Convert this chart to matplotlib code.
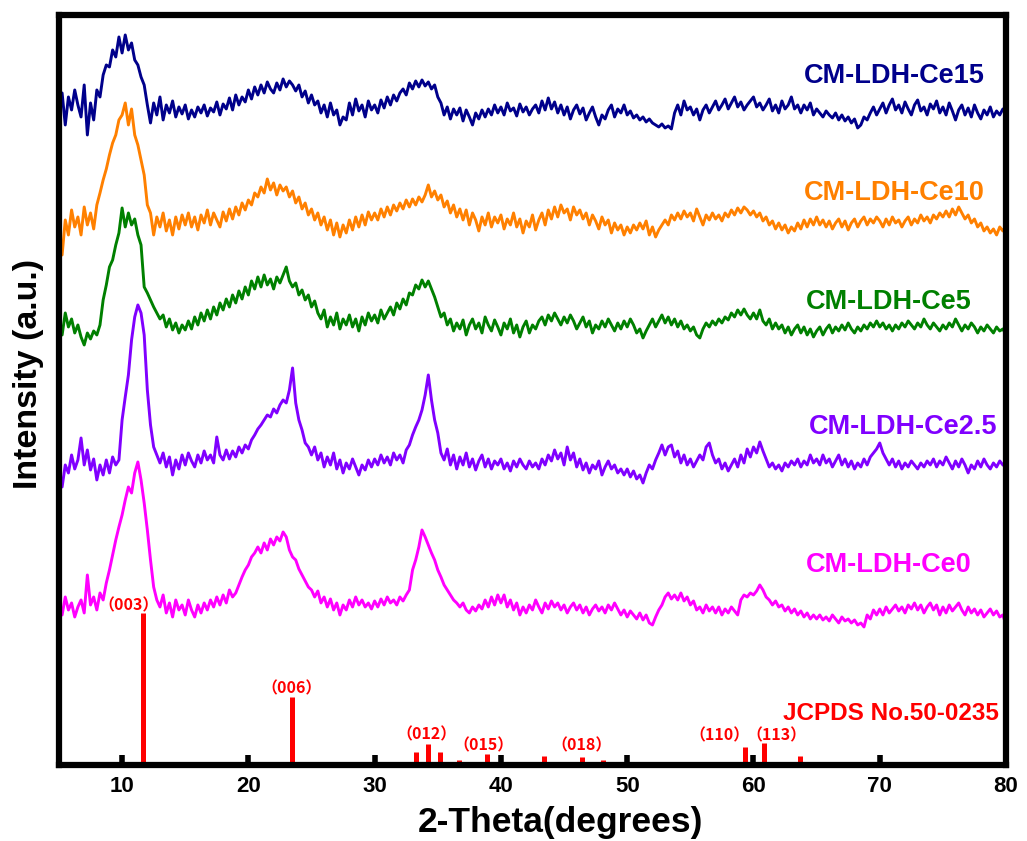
import numpy as np
import matplotlib
matplotlib.use("Agg")
from matplotlib import pyplot as plt

plt.rcParams['font.family'] = ['Liberation Sans', 'DejaVu Sans']
plt.rcParams['font.weight'] = 'bold'

# 2-theta grid of the read-off points (5 to 80 deg, step 0.25)
two_theta = np.arange(5.0, 80.001, 0.25)

# intensities (a.u., already stacked)
ce15 = [645, 672, 640, 668, 655, 675, 660, 648, 680, 630, 662, 645, 675, 668, 690, 700, 698, 715, 708, 728,
        712, 730, 715, 722, 705, 700, 688, 680, 660, 642, 662, 650, 668, 645, 660, 652, 664, 648, 658, 651,
        660, 646, 655, 648, 658, 652, 660, 649, 657, 653, 663, 650, 661, 656, 667, 655, 670, 660, 668, 663,
        675, 666, 678, 670, 680, 672, 683, 676, 672, 682, 675, 686, 678, 684, 680, 674, 680, 668, 674, 662,
        670, 660, 664, 652, 660, 648, 662, 650, 655, 640, 648, 645, 662, 650, 666, 654, 660, 648, 664, 655,
        660, 652, 665, 657, 668, 660, 670, 664, 672, 676, 670, 682, 676, 684, 678, 685, 679, 683, 676, 680,
        668, 662, 650, 658, 646, 656, 650, 657, 644, 655, 648, 640, 652, 646, 655, 648, 656, 650, 660, 652,
        658, 650, 662, 654, 657, 649, 661, 653, 658, 650, 656, 660, 652, 664, 655, 667, 656, 663, 652, 660,
        650, 658, 646, 655, 660, 651, 657, 645, 652, 658, 648, 640, 650, 646, 655, 660, 648, 656, 652, 660,
        650, 654, 647, 650, 645, 648, 643, 646, 642, 640, 638, 641, 637, 639, 636, 652, 660, 650, 664, 655,
        658, 650, 656, 645, 655, 660, 652, 658, 664, 655, 660, 666, 656, 662, 668, 658, 663, 655, 660, 664,
        668, 658, 662, 655, 660, 666, 654, 660, 652, 664, 656, 660, 668, 656, 660, 652, 660, 655, 662, 650,
        656, 652, 648, 654, 650, 647, 652, 645, 650, 644, 648, 642, 646, 637, 640, 648, 645, 652, 658, 650,
        656, 662, 652, 660, 666, 655, 660, 652, 663, 656, 650, 660, 665, 654, 658, 650, 661, 656, 664, 652,
        658, 650, 662, 654, 645, 655, 660, 650, 657, 648, 660, 652, 646, 655, 650, 658, 648, 654, 650, 656,
        650]
ce10 = [535, 510, 545, 530, 555, 538, 548, 530, 558, 540, 552, 536, 560, 572, 585, 596, 610, 622, 630, 645,
        650, 662, 640, 656, 630, 620, 605, 590, 560, 552, 530, 548, 538, 552, 534, 545, 530, 548, 536, 550,
        540, 552, 538, 548, 535, 550, 542, 555, 540, 552, 545, 538, 553, 544, 556, 546, 558, 550, 562, 555,
        565, 560, 572, 568, 578, 572, 586, 575, 582, 570, 580, 574, 578, 568, 574, 562, 568, 556, 562, 550,
        556, 545, 552, 540, 548, 535, 545, 530, 542, 528, 540, 532, 545, 535, 548, 538, 550, 540, 553, 545,
        552, 545, 556, 548, 558, 550, 560, 554, 562, 556, 565, 558, 566, 560, 568, 563, 570, 580, 568, 574,
        565, 570, 558, 564, 552, 560, 548, 556, 545, 555, 540, 552, 545, 534, 548, 540, 552, 538, 548, 542,
        550, 536, 546, 540, 552, 538, 546, 532, 544, 538, 550, 535, 545, 552, 540, 555, 546, 558, 548, 560,
        552, 556, 545, 558, 550, 555, 546, 552, 540, 550, 544, 536, 548, 540, 545, 532, 542, 535, 540, 530,
        538, 532, 540, 535, 542, 536, 544, 530, 538, 528, 535, 540, 545, 540, 550, 545, 552, 546, 554, 548,
        552, 544, 556, 548, 540, 550, 545, 552, 546, 550, 544, 552, 548, 555, 550, 557, 552, 558, 555, 550,
        554, 548, 552, 544, 548, 540, 544, 536, 542, 535, 540, 532, 538, 534, 542, 536, 545, 538, 546, 540,
        548, 540, 545, 538, 544, 536, 542, 546, 538, 544, 535, 542, 546, 538, 544, 548, 540, 546, 542, 548,
        544, 538, 546, 540, 548, 542, 545, 538, 544, 548, 540, 546, 542, 550, 544, 548, 542, 550, 546, 552,
        548, 554, 548, 556, 550, 558, 552, 546, 550, 542, 546, 538, 542, 534, 538, 532, 536, 530, 538, 534,
        540]
ce5 = [445, 430, 452, 438, 446, 432, 440, 428, 420, 432, 426, 434, 430, 440, 465, 480, 498, 505, 520, 532,
       557, 538, 552, 540, 546, 530, 520, 478, 472, 465, 458, 452, 446, 450, 438, 446, 435, 442, 432, 440,
       435, 444, 436, 448, 440, 452, 444, 455, 446, 458, 450, 462, 455, 466, 458, 470, 462, 474, 466, 478,
       470, 484, 476, 488, 478, 490, 480, 486, 476, 488, 482, 490, 498, 484, 478, 482, 470, 475, 465, 470,
       458, 464, 452, 446, 455, 438, 448, 440, 452, 436, 446, 440, 450, 438, 446, 434, 448, 440, 452, 444,
       450, 442, 455, 446, 452, 458, 450, 462, 456, 466, 460, 472, 470, 480, 476, 485, 478, 484, 476, 468,
       458, 448, 452, 440, 446, 434, 442, 436, 445, 430, 440, 446, 436, 442, 432, 448, 440, 434, 445, 438,
       430, 442, 436, 446, 432, 440, 428, 438, 444, 432, 440, 436, 444, 448, 440, 450, 444, 452, 446, 440,
       448, 442, 450, 444, 436, 442, 448, 438, 444, 432, 440, 436, 444, 438, 446, 440, 434, 442, 436, 444,
       438, 446, 440, 432, 436, 427, 434, 440, 446, 438, 444, 450, 442, 448, 440, 446, 438, 444, 436, 440,
       434, 438, 430, 427, 436, 442, 438, 444, 440, 446, 442, 448, 445, 452, 448, 455, 450, 456, 450, 446,
       452, 446, 455, 444, 440, 446, 436, 442, 436, 440, 432, 438, 430, 436, 440, 432, 438, 430, 436, 428,
       434, 438, 430, 436, 440, 432, 438, 434, 440, 435, 442, 436, 432, 438, 434, 440, 436, 442, 438, 444,
       438, 442, 436, 440, 434, 440, 436, 442, 438, 444, 440, 436, 442, 438, 446, 440, 436, 442, 438, 434,
       440, 436, 442, 438, 446, 440, 434, 440, 436, 442, 438, 432, 438, 434, 440, 436, 432, 438, 434, 436,
       430]
ce2_5 = [290, 278, 300, 292, 310, 296, 305, 327, 300, 315, 295, 306, 285, 300, 290, 305, 292, 308, 300, 305,
         345, 368, 390, 425, 448, 460, 452, 430, 375, 340, 318, 310, 302, 312, 298, 308, 290, 305, 296, 310,
         300, 312, 304, 298, 310, 302, 314, 305, 310, 302, 328, 310, 305, 315, 306, 314, 308, 318, 312, 320,
         316, 325, 330, 336, 340, 345, 350, 348, 356, 352, 360, 365, 362, 375, 397, 362, 345, 335, 322, 318,
         310, 318, 305, 312, 298, 308, 300, 312, 296, 305, 292, 302, 296, 306, 298, 290, 300, 295, 305, 298,
         306, 300, 310, 302, 308, 300, 312, 305, 310, 302, 315, 320, 330, 338, 345, 355, 370, 390, 365, 345,
         332, 312, 305, 316, 300, 310, 296, 308, 300, 312, 298, 306, 295, 304, 310, 298, 306, 296, 304, 300,
         306, 296, 302, 294, 304, 298, 306, 300, 296, 304, 298, 302, 296, 306, 300, 310, 304, 315, 306, 312,
         300, 318, 305, 312, 298, 306, 295, 302, 292, 300, 296, 304, 290, 298, 304, 296, 300, 292, 296, 290,
         296, 288, 294, 286, 290, 282, 292, 300, 296, 305, 312, 320, 310, 318, 320, 308, 314, 302, 310, 300,
         306, 298, 304, 310, 305, 318, 322, 310, 302, 306, 296, 302, 294, 300, 306, 298, 310, 302, 316, 308,
         318, 312, 323, 314, 306, 298, 302, 296, 300, 294, 302, 298, 304, 300, 306, 298, 304, 300, 310, 302,
         306, 300, 310, 302, 306, 298, 304, 310, 300, 306, 298, 304, 296, 302, 298, 306, 300, 308, 312, 316,
         322, 312, 306, 300, 306, 298, 304, 296, 302, 298, 304, 300, 296, 302, 298, 304, 300, 306, 298, 304,
         300, 308, 302, 296, 304, 298, 306, 300, 292, 300, 296, 304, 298, 306, 300, 296, 302, 298, 304, 300,
         298]
ce0 = [160, 150, 168, 155, 162, 148, 158, 165, 152, 190, 160, 168, 155, 172, 165, 182, 195, 210, 225, 238,
       250, 265, 278, 272, 292, 303, 285, 262, 235, 205, 178, 165, 158, 170, 152, 162, 148, 165, 155, 160,
       150, 165, 155, 148, 160, 152, 162, 155, 165, 158, 168, 160, 170, 162, 175, 168, 172, 180, 188, 195,
       200, 208, 212, 218, 212, 222, 215, 226, 220, 228, 224, 233, 228, 215, 208, 205, 196, 190, 184, 178,
       175, 168, 174, 162, 168, 158, 166, 155, 162, 150, 160, 155, 165, 158, 168, 160, 165, 158, 162, 156,
       164, 158, 166, 160, 168, 162, 165, 160, 168, 164, 170, 175, 195, 205, 218, 235, 228, 220, 212, 205,
       195, 188, 180, 175, 170, 165, 162, 158, 162, 155, 152, 158, 154, 160, 156, 165, 158, 168, 160, 170,
       162, 170, 158, 165, 155, 162, 150, 158, 152, 160, 155, 165, 158, 152, 162, 156, 164, 158, 162, 155,
       160, 152, 158, 162, 155, 160, 152, 158, 150, 156, 160, 154, 158, 152, 160, 155, 162, 156, 150, 155,
       148, 154, 150, 146, 152, 145, 150, 142, 140, 148, 155, 160, 168, 172, 166, 170, 165, 172, 164, 168,
       160, 164, 155, 158, 152, 160, 154, 158, 152, 158, 150, 156, 152, 158, 154, 150, 165, 170, 168, 172,
       170, 174, 180, 175, 168, 165, 160, 164, 158, 160, 154, 158, 152, 156, 150, 154, 148, 152, 146, 150,
       146, 150, 145, 148, 144, 150, 146, 142, 148, 144, 146, 142, 145, 140, 142, 138, 150, 146, 155, 150,
       156, 150, 158, 152, 156, 160, 154, 158, 152, 160, 156, 162, 155, 160, 152, 158, 162, 155, 160, 150,
       158, 152, 160, 154, 158, 162, 155, 150, 158, 152, 156, 150, 155, 148, 152, 156, 150, 154, 148, 150,
       140]

series_names = ['CM-LDH-Ce15', 'CM-LDH-Ce10', 'CM-LDH-Ce5', 'CM-LDH-Ce2.5', 'CM-LDH-Ce0']
series_data = [ce15, ce10, ce5, ce2_5, ce0]
series_colors = ['#00008B', '#FF8000', '#008000', '#8000FF', '#FF00FF']

# JCPDS No.50-0235 reference lines
ref_pos = [11.65, 23.45, 33.3, 34.2, 35.2, 36.7, 38.9, 43.4, 46.4, 48.1, 52.7, 56.3, 59.3, 60.8, 63.7]
ref_int = [152, 68, 13, 21, 13, 5, 11, 9, 8, 5, 2, 2, 18, 22, 9]
hkl_labels = ['（003）', '（006）', '（012）', '（015）', '（018）', '（110）', '（113）']
hkl_pos = [10.5, 23.45, 34.1, 38.6, 46.4, 57.3, 61.8]
hkl_y = [160, 77, 31, 20, 20, 30, 30]

fig = plt.figure(figsize=(10.27, 8.41), dpi=100)
ax = fig.add_axes([0.0574, 0.0904, 0.9222, 0.8918])

for name, y, c in zip(series_names, series_data, series_colors):
    ax.plot(two_theta, y, color=c, lw=2.1, label=name)

ax.vlines(ref_pos, 0, ref_int, color='#FF0000', lw=3.6)
for lab, x, y in zip(hkl_labels, hkl_pos, hkl_y):
    ax.text(x, y, lab, color='#FF0000', fontsize=11.5, fontweight='bold',
            family=['Noto Sans CJK SC', 'DejaVu Sans'], ha='center', va='center')

# curve names on the right
name_x = [78.3, 78.3, 77.3, 79.3, 77.3]
name_y = [689, 572, 463, 338, 200]
for name, x, y, c in zip(series_names, name_x, name_y, series_colors):
    ax.text(x, y, name, color=c, fontsize=19.5, fontweight='bold', ha='right', va='center')
ax.text(79.4, 51, 'JCPDS No.50-0235', color='#FF0000', fontsize=17.5, fontweight='bold',
        ha='right', va='center')

ax.set_xlim(5, 80)
ax.set_ylim(0, 750)
ax.set_xticks([10, 20, 30, 40, 50, 60, 70, 80])
ax.set_yticks([])
ax.tick_params(axis='x', direction='in', length=7, width=4, labelsize=16, pad=8)
for lab in ax.get_xticklabels():
    lab.set_fontweight('bold')
for sp in ax.spines.values():
    sp.set_linewidth(4.5)

ax.set_xlabel('2-Theta(degrees)', fontsize=25.5, fontweight='bold')
ax.xaxis.set_label_coords(0.530, -0.055)
ax.set_ylabel('Intensity (a.u.)', fontsize=24.5, fontweight='bold')
ax.yaxis.set_label_coords(-0.016, 0.521)

fig.savefig('out.png', dpi=100)
